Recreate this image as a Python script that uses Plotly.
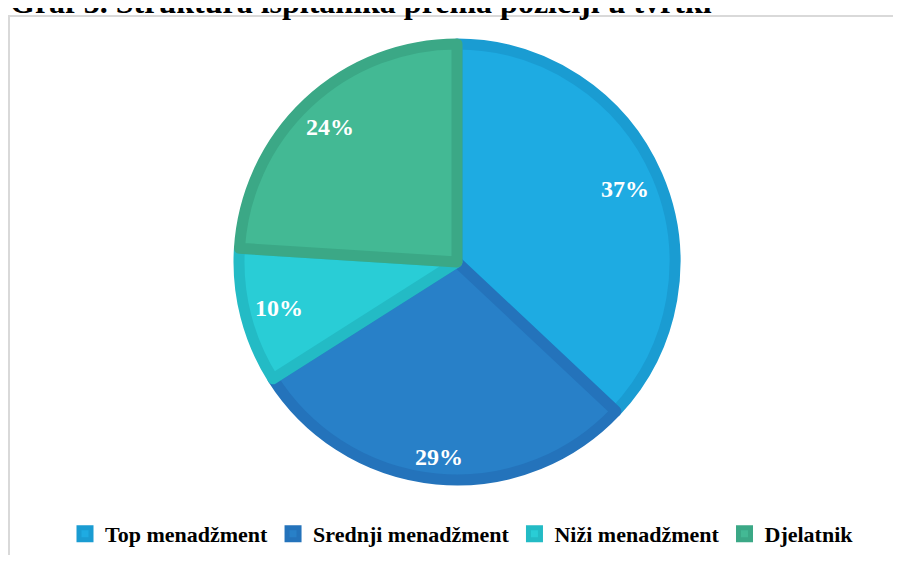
import math
import plotly.graph_objects as go

categories = ["Top menadžment", "Srednji menadžment", "Niži menadžment", "Djelatnik"]
values = [37, 29, 10, 24]
fill_colors = ["#1EABE2", "#2880C8", "#29CDD6", "#43B994"]
border_colors = ["#1A9CD2", "#2473BB", "#23BBC5", "#3BA886"]
title_text = "Graf 3. Struktura ispitanika prema poziciji u tvrtki"

# page body has an 8px margin: figure coords = screen coords - 8
OFF = 8
W, H = 901 - 2 * OFF, 563 - 2 * OFF
cx, cy, R = 457 - OFF, 262 - OFF, 223
SERIF = "Times New Roman, Liberation Serif, serif"
LABEL_SIZE = 24
LABEL_HALF_W, LABEL_HALF_H = 24, 12
TITLE_SIZE = 32

def px(x):
    return x / W

def py(y):
    return 1 - y / H

fig = go.Figure()
fig.add_trace(go.Pie(
    labels=categories,
    values=values,
    sort=False,
    direction="clockwise",
    rotation=0,
    textinfo="none",
    hoverinfo="label+percent",
    marker=dict(colors=fill_colors, line=dict(color=border_colors, width=11)),
    domain=dict(x=[px(cx - R + 5), px(cx + R - 5)],
                y=[py(cy + R - 5), py(cy - R + 5)]),
    showlegend=True,
))

# percentage labels placed "inside end": label box pushed toward the rim
annotations = []
total = sum(values)
cum = 0
for v in values:
    mid = (cum + v / 2) / total * 2 * math.pi
    cum += v
    s, c = math.sin(mid), math.cos(mid)
    half_ext = LABEL_HALF_W * abs(s) + LABEL_HALF_H * abs(c)
    r = R - 13 - half_ext
    lx = cx + r * s
    ly = cy - r * c
    annotations.append(dict(
        x=px(lx), y=py(ly), xref="paper", yref="paper",
        text=f"<b>{round(v / total * 100)}%</b>", showarrow=False,
        font=dict(family=SERIF, size=LABEL_SIZE, color="white"),
        xanchor="center", yanchor="middle",
    ))

# title (cut off at the top, as in the reference)
annotations.append(dict(
    x=px(0), y=py(5 - 0.35 * TITLE_SIZE), xref="paper", yref="paper",
    text=f"<b>{title_text}</b>", showarrow=False,
    font=dict(family=SERIF, size=TITLE_SIZE, color="black"),
    xanchor="left", yanchor="middle",
))

fig.update_layout(
    width=W, height=H,
    margin=dict(l=0, r=0, t=0, b=0),
    paper_bgcolor="white",
    plot_bgcolor="white",
    annotations=annotations,
    shapes=[dict(type="rect", xref="paper", yref="paper",
                 x0=px(1), x1=1.1, y0=-0.1, y1=py(8),
                 line=dict(color="#D9D9D9", width=2), fillcolor="rgba(0,0,0,0)",
                 layer="below")],
    legend=dict(
        orientation="h", x=px(462 - OFF), xanchor="center",
        y=py(534 - OFF), yanchor="middle",
        font=dict(family=SERIF, size=22, color="black", weight="bold"),
        itemwidth=30, traceorder="normal",
        bgcolor="rgba(0,0,0,0)",
    ),
)

fig.write_html("out.html")
